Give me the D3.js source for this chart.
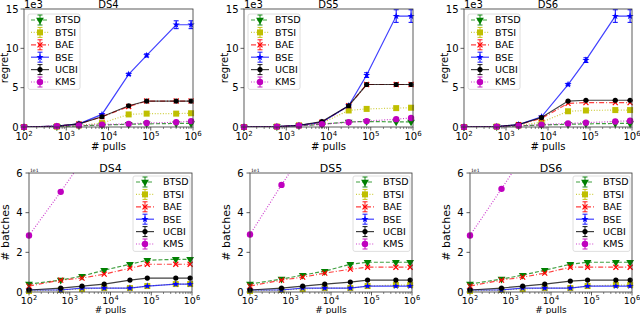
<!DOCTYPE html>
<html>
<head>
<meta charset="utf-8">
<script src="https://cdn.jsdelivr.net/npm/d3@7"></script>
<style>
  body { margin: 0; background: #fff; }
  svg { display: block; font-family: "DejaVu Sans", sans-serif; }
</style>
</head>
<body>
<svg id="chart" width="640" height="314"></svg>
<script>
/* global d3 */

// ----- data -----
const pulls = [100, 600, 2000, 7000, 30000, 80000, 400000, 900000]
const methods = ['BTSD', 'BTSI', 'BAE', 'BSE', 'UCBI', 'KMS']

// regret (x 1e3), one row per method in the order above
const ds4Regret = [
  [0, 0.05, 0.15, 0.25, 0.35, 0.4, 0.45, 0.45],
  [0, 0.05, 0.2, 0.5, 1.6, 1.7, 1.7, 1.75],
  [0, 0.1, 0.4, 1.3, 2.6, 3.3, 3.3, 3.3],
  [0, 0.1, 0.4, 1.6, 6.7, 9.1, 13.0, 13.0],
  [0, 0.1, 0.4, 1.3, 2.7, 3.3, 3.3, 3.3],
  [0, 0.1, 0.2, 0.3, 0.4, 0.5, 0.6, 0.75]
]
const ds5Regret = [
  [0, 0.05, 0.15, 0.35, 0.65, 0.7, 0.65, 0.65],
  [0, 0.05, 0.2, 0.5, 2.1, 2.3, 2.4, 2.45],
  [0, 0.05, 0.2, 0.6, 2.7, 5.4, 5.4, 5.4],
  [0, 0.05, 0.2, 0.6, 2.7, 6.6, 14.1, 14.1],
  [0, 0.05, 0.2, 0.7, 2.7, 5.4, 5.4, 5.4],
  [0, 0.05, 0.15, 0.35, 0.6, 0.75, 1.0, 1.15]
]
const ds6Regret = [
  [0, 0.05, 0.15, 0.25, 0.35, 0.4, 0.45, 0.45],
  [0, 0.05, 0.2, 0.6, 2.0, 2.1, 2.15, 2.15],
  [0, 0.05, 0.3, 1.1, 3.0, 3.1, 3.1, 3.1],
  [0, 0.05, 0.3, 1.3, 5.4, 8.5, 14.1, 14.1],
  [0, 0.05, 0.3, 1.2, 3.3, 3.4, 3.4, 3.4],
  [0, 0.05, 0.15, 0.3, 0.45, 0.55, 0.7, 0.8]
]
// error bars of BSE regret (x 1e3)
const ds4BseErr = [0, 0, 0, 0.1, 0.15, 0.2, 0.5, 0.5]
const ds5BseErr = [0, 0, 0, 0.05, 0.15, 0.3, 0.8, 0.8]
const ds6BseErr = [0, 0, 0, 0.05, 0.15, 0.3, 0.8, 0.8]

// number of batches (x 1e1)
const ds4Batches = [
  [0.4, 0.6, 0.8, 1.1, 1.4, 1.6, 1.65, 1.65],
  [0.05, 0.1, 0.15, 0.2, 0.2, 0.3, 0.4, 0.4],
  [0.3, 0.6, 0.7, 0.9, 1.2, 1.4, 1.4, 1.4],
  [0.1, 0.1, 0.2, 0.2, 0.2, 0.3, 0.4, 0.4],
  [0.1, 0.2, 0.3, 0.4, 0.6, 0.7, 0.7, 0.7],
  [2.85, 5.05, 6.6, 8.2, 10.0, 11.2, 13.0, 14.0]
]
const ds5Batches = [
  [0.4, 0.65, 0.85, 1.05, 1.4, 1.5, 1.5, 1.5],
  [0.05, 0.1, 0.15, 0.2, 0.2, 0.3, 0.35, 0.35],
  [0.3, 0.6, 0.75, 0.95, 1.15, 1.25, 1.25, 1.25],
  [0.1, 0.1, 0.2, 0.2, 0.2, 0.3, 0.3, 0.3],
  [0.1, 0.2, 0.3, 0.4, 0.5, 0.6, 0.6, 0.6],
  [2.9, 5.4, 7.0, 8.6, 10.4, 11.6, 13.4, 14.4]
]
const ds6Batches = [
  [0.4, 0.65, 0.85, 1.1, 1.4, 1.5, 1.5, 1.5],
  [0.05, 0.1, 0.15, 0.2, 0.2, 0.3, 0.35, 0.35],
  [0.3, 0.6, 0.75, 0.95, 1.25, 1.25, 1.25, 1.25],
  [0.1, 0.1, 0.2, 0.2, 0.2, 0.3, 0.3, 0.3],
  [0.1, 0.2, 0.3, 0.4, 0.55, 0.6, 0.6, 0.6],
  [2.85, 5.2, 6.8, 8.4, 10.2, 11.4, 13.2, 14.2]
]

const regretTicks = [0, 5, 10, 15]
const batchTicks = [0, 2, 4, 6]
const xTickExps = [2, 3, 4, 5, 6]

// ----- styles -----
const styles = {
  BTSD: { color: '#008000', dash: '4,2', symbol: 'tri' },
  BTSI: { color: '#bfbf00', dash: '1,1.7', symbol: 'square' },
  BAE: { color: '#ff0000', dash: '5,2,1,2', symbol: 'x' },
  BSE: { color: '#0000ff', dash: null, symbol: 'star' },
  UCBI: { color: '#000000', dash: null, symbol: 'circle' },
  KMS: { color: '#bf00bf', dash: '1,1.7', symbol: 'bigcircle' }
}

const svg = d3.select('#chart')
let clipId = 0

function drawMarker (sel, name, x, y) {
  const st = styles[name]
  const g = sel.append('g').attr('transform', `translate(${x},${y})`)
  if (st.symbol === 'tri') {
    g.append('path').attr('d', d3.symbol(d3.symbolTriangle, 26)())
      .attr('transform', 'rotate(180)').attr('fill', st.color)
  } else if (st.symbol === 'square') {
    g.append('rect').attr('x', -3).attr('y', -3).attr('width', 6).attr('height', 6).attr('fill', st.color)
  } else if (st.symbol === 'x') {
    g.append('path').attr('d', 'M-2.5,-2.5L2.5,2.5M-2.5,2.5L2.5,-2.5')
      .attr('stroke', st.color).attr('stroke-width', 1.2).attr('fill', 'none')
  } else if (st.symbol === 'star') {
    g.append('path').attr('d', d3.symbol(d3.symbolStar, 16)()).attr('fill', st.color)
  } else if (st.symbol === 'circle') {
    g.append('circle').attr('r', 2.6).attr('fill', st.color)
  } else {
    g.append('circle').attr('r', 3.2).attr('fill', st.color)
  }
}

function drawPanel (cfg) {
  const [x0, y0, x1, y1] = cfg.box
  const xScale = d3.scaleLog().domain([1e2, 1e6]).range([x0, x1])
  const yScale = d3.scaleLinear().domain([0, cfg.yMax]).range([y1, y0])
  const g = svg.append('g')

  // clip for lines, a wider one for markers
  clipId += 1
  const lineClip = 'clip' + clipId
  const markClip = 'mclip' + clipId
  const defs = g.append('defs')
  defs.append('clipPath').attr('id', lineClip).append('rect')
    .attr('x', x0).attr('y', y0).attr('width', x1 - x0).attr('height', y1 - y0)
  defs.append('clipPath').attr('id', markClip).append('rect')
    .attr('x', x0 - 6).attr('y', y0 - 1).attr('width', x1 - x0 + 12).attr('height', y1 - y0 + 5)

  const line = d3.line().x((d, i) => xScale(pulls[i])).y(d => yScale(d))

  methods.forEach((name, k) => {
    const st = styles[name]
    const vals = cfg.data[k]
    const lg = g.append('g').attr('clip-path', `url(#${lineClip})`)
    lg.append('path').datum(vals).attr('d', line)
      .attr('fill', 'none').attr('stroke', st.color).attr('stroke-width', 1.2)
      .attr('stroke-opacity', 0.75)
      .attr('stroke-dasharray', st.dash)
    if (name === 'BSE' && cfg.err) {
      cfg.err.forEach((e, i) => {
        if (!e) return
        const cx = xScale(pulls[i])
        const ya = yScale(vals[i] + e)
        const yb = yScale(vals[i] - e)
        lg.append('path')
          .attr('d', `M${cx},${ya}V${yb}M${cx - 2.5},${ya}H${cx + 2.5}M${cx - 2.5},${yb}H${cx + 2.5}`)
          .attr('stroke', st.color).attr('stroke-width', 1).attr('fill', 'none')
      })
    }
    const mg = g.append('g').attr('clip-path', `url(#${markClip})`)
    vals.forEach((v, i) => {
      if (v > cfg.yMax) return
      drawMarker(mg, name, xScale(pulls[i]), yScale(v))
    })
  })

  // frame
  g.append('rect').attr('x', x0).attr('y', y0).attr('width', x1 - x0).attr('height', y1 - y0)
    .attr('fill', 'none').attr('stroke', '#333').attr('stroke-width', 0.8)

  // x ticks
  const minor = []
  for (let e = 2; e < 6; e++) for (let m = 2; m < 10; m++) minor.push(m * Math.pow(10, e))
  g.selectAll(null).data(minor).enter().append('line')
    .attr('x1', d => xScale(d)).attr('x2', d => xScale(d))
    .attr('y1', y1).attr('y2', y1 + 2).attr('stroke', '#333').attr('stroke-width', 0.6)
  g.selectAll(null).data(xTickExps).enter().append('line')
    .attr('x1', d => xScale(Math.pow(10, d))).attr('x2', d => xScale(Math.pow(10, d)))
    .attr('y1', y1).attr('y2', y1 + 3.5).attr('stroke', '#333').attr('stroke-width', 0.8)
  const xt = g.selectAll(null).data(xTickExps).enter().append('text')
    .attr('x', d => xScale(Math.pow(10, d))).attr('y', y1 + cfg.xTickDy)
    .attr('text-anchor', 'middle').attr('font-size', cfg.xTickFs)
  xt.append('tspan').text('10')
  xt.append('tspan').attr('dy', -cfg.xTickFs * 0.4).attr('font-size', cfg.xTickFs * 0.7).text(d => d)

  // y ticks
  g.selectAll(null).data(cfg.yTicks).enter().append('line')
    .attr('x1', x0 - 3.5).attr('x2', x0)
    .attr('y1', d => yScale(d)).attr('y2', d => yScale(d)).attr('stroke', '#333').attr('stroke-width', 0.8)
  g.selectAll(null).data(cfg.yTicks).enter().append('text')
    .attr('x', x0 - cfg.yTickDx).attr('y', d => yScale(d)).attr('dy', '0.35em')
    .attr('text-anchor', 'end').attr('font-size', cfg.yTickFs).text(d => d)

  // offset text, title, labels
  g.append('text').attr('x', x0 + cfg.offDx).attr('y', y0 - 1.5)
    .attr('font-size', cfg.offFs).text(cfg.offset)
  g.append('text').attr('x', (x0 + x1) / 2).attr('y', y0 - 1.5)
    .attr('text-anchor', 'middle').attr('font-size', cfg.fs).text(cfg.title)
  g.append('text').attr('x', (x0 + x1) / 2).attr('y', cfg.xLabelY)
    .attr('text-anchor', 'middle').attr('font-size', cfg.labelFs).text('# pulls')
  g.append('text')
    .attr('transform', `translate(${cfg.yLabelX},${(y0 + y1) / 2}) rotate(-90)`)
    .attr('text-anchor', 'middle').attr('font-size', cfg.fs).text(cfg.yLabel)

  // legend
  const lw = cfg.legendW
  const lx = cfg.legendRight ? x1 - 2 - lw : x0 + 4
  const ly = y0 + cfg.legendDy
  const rowH = 12.4
  const leg = g.append('g')
  leg.append('rect').attr('x', lx).attr('y', ly).attr('width', lw).attr('height', rowH * 6 + 1)
    .attr('rx', 2).attr('fill', '#fff').attr('fill-opacity', 0.85)
    .attr('stroke', '#d6d6d6').attr('stroke-width', 0.8)
  methods.forEach((name, k) => {
    const st = styles[name]
    const cy = ly + 6 + k * rowH
    const hx = lx + 3
    leg.append('line').attr('x1', hx).attr('x2', hx + 18).attr('y1', cy).attr('y2', cy)
      .attr('stroke', st.color).attr('stroke-width', 1.2).attr('stroke-opacity', 0.75)
      .attr('stroke-dasharray', st.dash)
    leg.append('path')
      .attr('d', `M${hx + 9},${cy - 5}V${cy + 5}M${hx + 6.5},${cy - 5}H${hx + 11.5}M${hx + 6.5},${cy + 5}H${hx + 11.5}`)
      .attr('stroke', st.color).attr('stroke-width', 0.9).attr('fill', 'none')
    drawMarker(leg, name, hx + 9, cy)
    leg.append('text').attr('x', lx + cfg.legendTx).attr('y', cy).attr('dy', '0.35em')
      .attr('font-size', 9.5).text(name)
  })
}

const topRow = [
  { title: 'DS4', data: ds4Regret, err: ds4BseErr, box: [24, 9, 193, 127] },
  { title: 'DS5', data: ds5Regret, err: ds5BseErr, box: [244, 9, 413, 127] },
  { title: 'DS6', data: ds6Regret, err: ds6BseErr, box: [464, 9, 632, 127] }
]
const bottomRow = [
  { title: 'DS4', data: ds4Batches, box: [29, 173, 192, 292] },
  { title: 'DS5', data: ds5Batches, box: [250, 173, 412, 292] },
  { title: 'DS6', data: ds6Batches, box: [470, 173, 632, 292] }
]

topRow.forEach(p => drawPanel(Object.assign({
  yMax: 15, yTicks: regretTicks, yLabel: 'regret', offset: '1e3', offFs: 10, offDx: 0,
  fs: 10, xTickFs: 10, yTickFs: 10, yTickDx: 5.5, labelFs: 10, xTickDy: 12.5, xLabelY: 150,
  yLabelX: p.box[0] - 16, legendRight: false, legendDy: 5, legendW: 52, legendTx: 27
}, p)))
bottomRow.forEach(p => drawPanel(Object.assign({
  yMax: 6, yTicks: batchTicks, yLabel: '# batches', offset: '1e1', offFs: 4.5, offDx: 1,
  fs: 11, xTickFs: 9.5, yTickFs: 10, yTickDx: 6.5, labelFs: 9, xTickDy: 11.5, xLabelY: 313.2,
  yLabelX: p.box[0] - 20, legendRight: true, legendDy: 3, legendW: 57, legendTx: 30
}, p)))
</script>
</body>
</html>
